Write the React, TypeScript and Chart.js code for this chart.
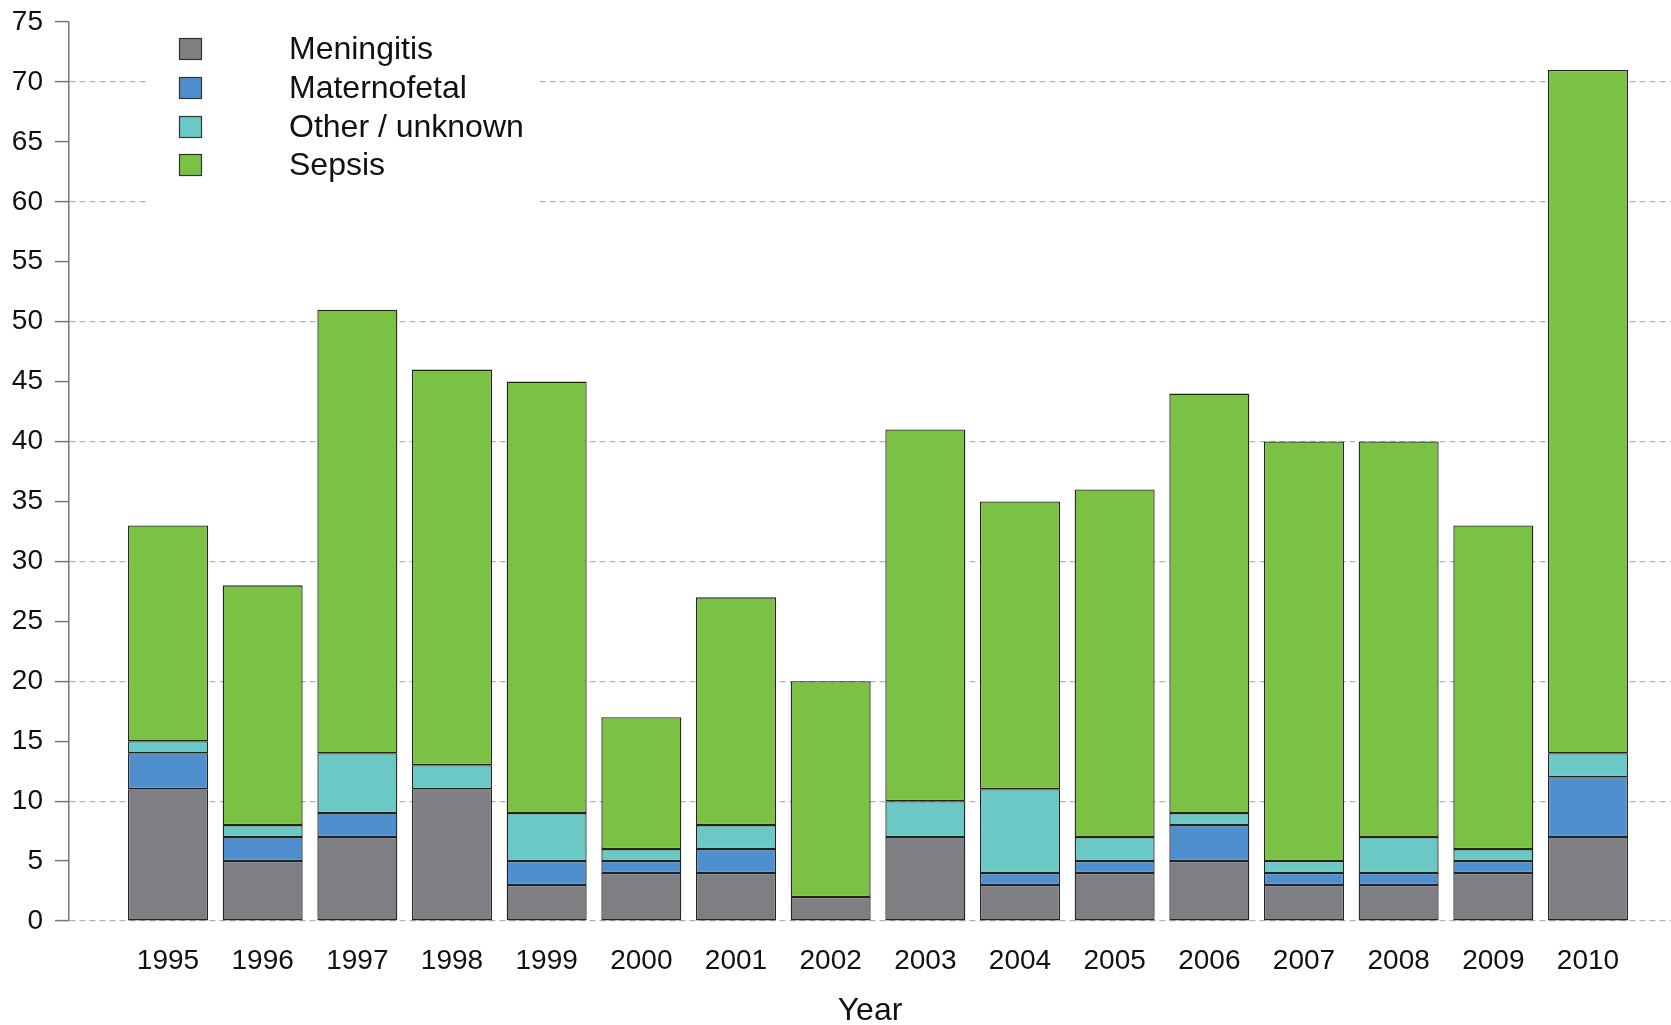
import React, { useEffect, useRef } from "react";
import { Chart, registerables } from "chart.js";

Chart.register(...registerables);

const YEARS = ["1995", "1996", "1997", "1998", "1999", "2000", "2001", "2002", "2003", "2004", "2005", "2006", "2007", "2008", "2009", "2010"];
const MENINGITIS = [11, 5, 7, 11, 3, 4, 4, 2, 7, 3, 4, 5, 3, 3, 4, 7];
const MATERNOFETAL = [3, 2, 2, 0, 2, 1, 2, 0, 0, 1, 1, 3, 1, 1, 1, 5];
const OTHER = [1, 1, 5, 2, 4, 1, 2, 0, 3, 7, 2, 1, 1, 3, 1, 2];
const SEPSIS = [18, 20, 37, 33, 36, 11, 19, 18, 31, 24, 29, 35, 35, 33, 27, 57];
const SERIES_NAMES = ["Meningitis", "Maternofetal", "Other / unknown", "Sepsis"];
const COLORS = ["#7f7e83", "#4f8fcd", "#6ac9c5", "#7bc143"];
const Y_TICK_STEP = 5;
const Y_MAX = 75;
const X_TITLE = "Year";

const FONT = "'Liberation Sans', Arial, Helvetica, sans-serif";

const legendPlugin = {
  id: "insetLegend",
  afterDraw(chart: any) {
    const ctx = chart.ctx;
    ctx.save();
    ctx.fillStyle = "#ffffff";
    ctx.fillRect(146, 24, 394, 186);
    const rowY = [49, 88, 127, 165];
    chart.data.datasets.forEach((ds: any, i: number) => {
      const y = rowY[i];
      ctx.fillStyle = ds.backgroundColor;
      ctx.fillRect(179, y - 11, 23, 22);
      ctx.strokeStyle = "#333333";
      ctx.lineWidth = 1.2;
      ctx.strokeRect(179.5, y - 10.5, 22, 21);
      ctx.fillStyle = "#111111";
      ctx.font = `32px ${FONT}`;
      ctx.textAlign = "left";
      ctx.textBaseline = "middle";
      ctx.fillText(ds.label, 289, y + 1);
    });
    ctx.restore();
  },
};

export default function App() {
  const ref = useRef<HTMLCanvasElement | null>(null);
  useEffect(() => {
    if (!ref.current) return;
    const seriesValues = [MENINGITIS, MATERNOFETAL, OTHER, SEPSIS];
    const chart = new Chart(ref.current, {
      type: "bar",
      data: {
        datasets: seriesValues.map((vals, si) => ({
          label: SERIES_NAMES[si],
          data: vals.map((v, i) => ({ x: i, y: v })),
          backgroundColor: COLORS[si],
          borderColor: "#222222",
          borderWidth: 1.3,
          borderSkipped: false,
          categoryPercentage: 1,
          barPercentage: 0.845,
        })),
      },
      options: {
        animation: false,
        responsive: true,
        maintainAspectRatio: false,
        layout: { padding: { left: 0, right: 0, top: 22, bottom: 0 } },
        plugins: { legend: { display: false }, tooltip: { enabled: false } },
        scales: {
          x: {
            type: "linear",
            stacked: true,
            min: -1.046,
            max: 15.877,
            offset: false,
            grid: { display: false },
            border: { display: false },
            afterBuildTicks: (scale: any) => {
              scale.ticks = YEARS.map((_, i) => ({ value: i }));
            },
            afterFit: (scale: any) => {
              scale.height = 104;
              scale.paddingLeft = 0;
              scale.paddingRight = 0;
            },
            ticks: {
              autoSkip: false,
              maxRotation: 0,
              padding: 15,
              color: "#111111",
              font: { family: FONT, size: 28 },
              callback: (v: any) => YEARS[v] ?? "",
            },
            title: {
              display: true,
              text: X_TITLE,
              color: "#111111",
              font: { family: FONT, size: 32, lineHeight: 0.8 },
              padding: { top: 0, bottom: 1 },
            },
          },
          y: {
            stacked: true,
            min: 0,
            max: Y_MAX,
            afterFit: (scale: any) => {
              scale.width = 69;
              scale.paddingTop = 0;
              scale.paddingBottom = 0;
            },
            ticks: {
              stepSize: Y_TICK_STEP,
              padding: 12,
              color: "#111111",
              font: { family: FONT, size: 28 },
            },
            grid: {
              color: (c: any) => (c.tick && c.tick.value % 10 === 0 ? "#b4b4b4" : "rgba(0,0,0,0)"),
              lineWidth: 1.2,
              tickColor: "#777777",
              tickLength: 14,
              tickWidth: 1.5,
              tickBorderDash: [],
            },
            border: { display: true, color: "#777777", width: 1.5, dash: [6, 4] },
          },
        },
      },
      plugins: [legendPlugin],
    } as any);
    return () => chart.destroy();
  }, []);
  return (
    <div style={{ position: "fixed", left: 0, top: 0, width: 1671, height: 1025, background: "#fff" }}>
      <canvas ref={ref} />
    </div>
  );
}
